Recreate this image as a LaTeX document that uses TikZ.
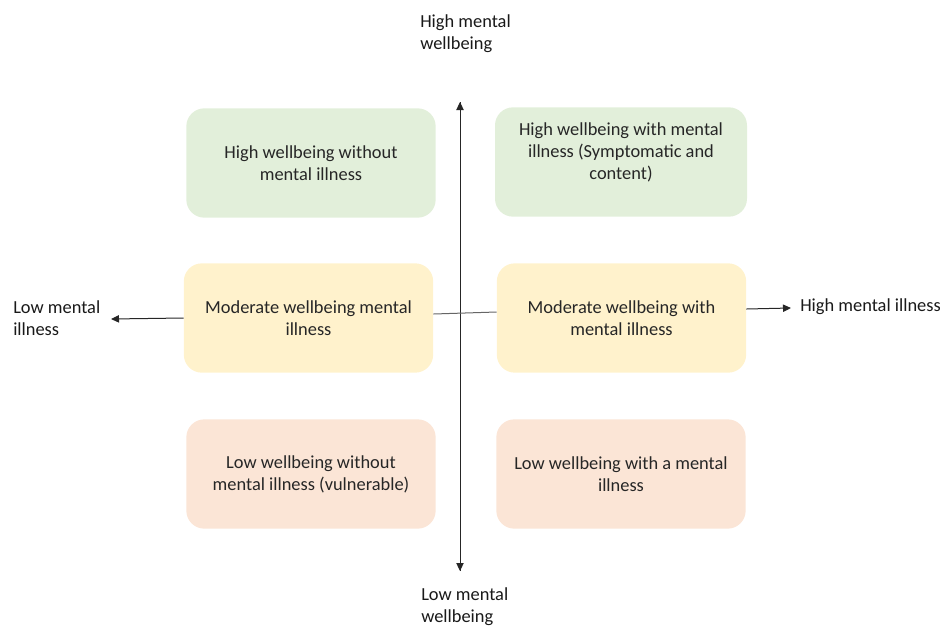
\documentclass[tikz,border=0pt]{standalone}
\usepackage{fontspec}
\setmainfont{Carlito}
\usetikzlibrary{positioning,arrows.meta}
\definecolor{hiwb}{HTML}{E2EFDA}
\definecolor{modwb}{HTML}{FFF2CC}
\definecolor{lowwb}{HTML}{FBE5D6}
\tikzset{
  quad/.style={rounded corners=13.5pt, minimum width=187pt, minimum height=82pt,
               align=center, inner sep=0pt, font=\fontsize{13.8}{16.5}\selectfont, text=black!85},
  axis/.style={line width=0.75pt, draw=black!85, -{Triangle[length=6pt, width=5.5pt]}},
  midln/.style={line width=0.75pt, draw=black!60},
  axlab/.style={align=left, inner sep=0pt, font=\fontsize{13.8}{16.5}\selectfont, text=black!90},
}
\begin{document}
\begin{tikzpicture}[x=0.75pt, y=-0.75pt]
  \useasboundingbox (0,0) rectangle (940,626);
  % quadrant boxes
  \node[quad, fill=hiwb] (tl) at (311,163) {High wellbeing without\\mental illness};
  \node[quad, fill=hiwb, minimum width=189pt] (tr) at (621,162) {High wellbeing with mental\\illness (Symptomatic and\\content)\\\mbox{}};
  \node[quad, fill=modwb] (ml) at (308.5,318) {Moderate wellbeing mental\\illness};
  \node[quad, fill=modwb] (mr) at (621.5,318) {Moderate wellbeing with\\mental illness};
  \node[quad, fill=lowwb] (bl) at (311,474) {Low wellbeing without\\mental illness (vulnerable)};
  \node[quad, fill=lowwb] (br) at (621,474) {Low wellbeing with a mental\\illness};
  % axis labels
  \node[axlab, anchor=west] (hmw) at (420,34) {High mental\\wellbeing};
  \node[axlab, anchor=west] (lmw) at (421,607) {Low mental\\wellbeing};
  \node[axlab, anchor=west] (lmi) at (13,318) {Low mental\\illness};
  \node[axlab, anchor=west] (hmi) at (800,307) {High mental illness};
  % axes
  \coordinate (vtop) at (460,102);
  \coordinate (vbot) at (460,571);
  \coordinate (hl) at (111,319);
  \coordinate (hr) at (791,308);
  \draw[axis] (vbot) -- (vtop);
  \draw[axis] (vtop) -- (vbot);
  \draw[axis] (ml.west) -- (hl);
  \draw[midln] ([yshift=3pt]ml.east) -- ([yshift=4.5pt]mr.west);
  \draw[axis] ([yshift=6.75pt]mr.east) -- (hr);
\end{tikzpicture}
\end{document}
